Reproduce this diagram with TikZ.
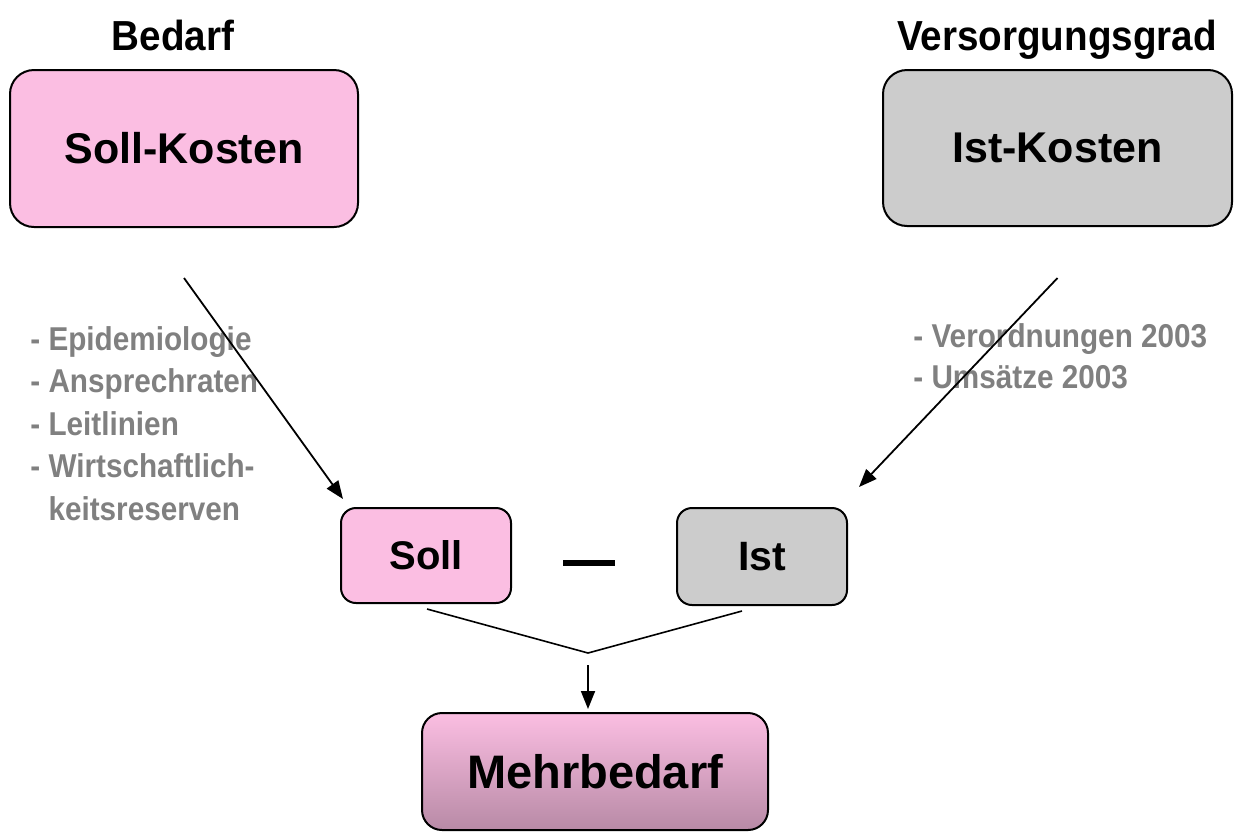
\documentclass[tikz,border=0pt]{standalone}
\usepackage{fontspec}
\setmainfont{Liberation Sans}
\newfontfamily\narrowsf[FakeStretch=0.92]{Liberation Sans}
\newfontfamily\listsf[FakeStretch=0.9]{Liberation Sans}
\usetikzlibrary{arrows.meta}
\definecolor{sollpink}{RGB}{251,190,226}
\definecolor{istgray}{RGB}{204,204,204}
\definecolor{notegray}{RGB}{128,128,128}
\definecolor{mehrmauve}{RGB}{184,138,166}
\tikzset{
  box/.style={draw, line width=1pt, inner sep=0pt},
  title/.style={anchor=base, inner sep=0pt,
    font=\narrowsf\bfseries\fontsize{21}{25}\selectfont},
  note/.style={anchor=base west, inner sep=0pt, align=left, text=notegray},
  arr/.style={-{Triangle[length=9pt,width=7pt]}, line width=0.9pt}
}
\begin{document}
\begin{tikzpicture}[x=0.5pt,y=-0.5pt]
        \useasboundingbox (0,0) rectangle (1240,831);
        %Bedarf
        \node[title] (bedarf) at (173,50) {Bedarf};
        \node[box, fill=sollpink, rounded corners=12pt,
        minimum width=174pt, minimum height=78.5pt,
        font=\bfseries\fontsize{21.5}{26}\selectfont]
        (sollkosten) at (184,148.5) {Soll-Kosten};
        %Versorgungsgrad
        \node[title] (versorgung) at (1057,50) {Versorgungsgrad};
        \node[box, fill=istgray, rounded corners=12pt,
        minimum width=174.5pt, minimum height=78pt,
        font=\bfseries\fontsize{21.5}{26}\selectfont]
        (istkosten) at (1057.5,148) {Ist-Kosten};
        %Einflussgroessen (base = last line)
        \node[note, font=\listsf\bfseries\fontsize{16.5}{21.25}\selectfont]
        (bedarfliste) at (30,520) {- Epidemiologie\\- Ansprechraten\\- Leitlinien\\- Wirtschaftlich-\\\phantom{- }keitsreserven};
        \node[note, font=\listsf\bfseries\fontsize{16.5}{20.5}\selectfont]
        (istliste) at (913,388) {- Verordnungen 2003\\- Ums\"atze 2003};
        %Soll - Ist
        \node[box, fill=sollpink, rounded corners=7.5pt,
        minimum width=85pt, minimum height=47.5pt,
        font=\bfseries\fontsize{20}{24}\selectfont]
        (soll) at (426,555.5) {Soll};
        \node[box, fill=istgray, rounded corners=7.5pt,
        minimum width=85pt, minimum height=48.5pt,
        font=\bfseries\fontsize{20.5}{24}\selectfont]
        (ist) at (762,556.5) {Ist};
        \draw[line width=3pt] (563,563) -- (615,563);
        \draw[arr] ([yshift=-25pt]sollkosten.south)
        -- ([shift={(1.5pt,4pt)}]soll.north west);
        \draw[arr] ([yshift=-25.5pt]istkosten.south)
        -- ([shift={(5.5pt,10pt)}]ist.north east);
        %Mehrbedarf
        \node[box, top color=sollpink, bottom color=mehrmauve,
        rounded corners=10pt, minimum width=173pt, minimum height=58.5pt,
        font=\bfseries\fontsize{23.5}{28}\selectfont]
        (mehr) at (595,771.5) {Mehrbedarf};
        \coordinate (join) at (588,653);
        \draw[line width=0.8pt] ([shift={(0.5pt,-2.5pt)}]soll.south)
        -- (join) -- ([shift={(-10pt,-2.5pt)}]ist.south);
        \draw[arr] ([yshift=-6pt]join) -- ([yshift=1.5pt]join |- mehr.north);
\end{tikzpicture}
\end{document}
